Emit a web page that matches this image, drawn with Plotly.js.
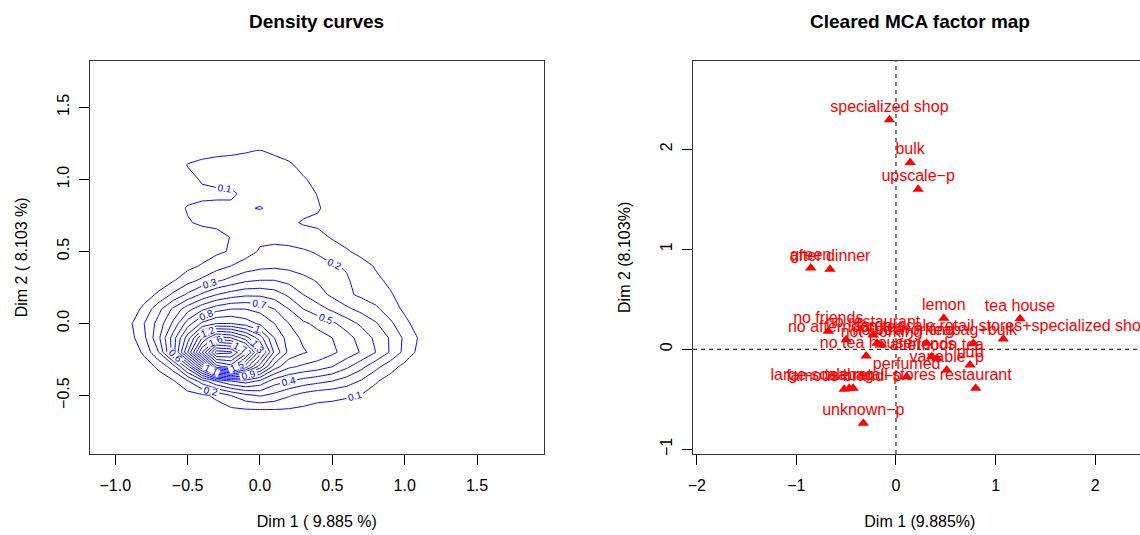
<!DOCTYPE html>
<html>
<head>
<meta charset="utf-8">
<script src="https://cdn.plot.ly/plotly-3.0.1.min.js"></script>
<style>
html, body { margin: 0; padding: 0; overflow: hidden; background: #fff; }
#chart { width: 1160px; height: 535px; }
</style>
</head>
<body>
<div id="chart"></div>
<script>
// ---- Left panel: density grid ----
const gridX = [-1.0,-0.9,-0.8,-0.7,-0.6,-0.5,-0.4,-0.3,-0.2,-0.1,0.0,0.1,0.2,0.3,0.4,0.5,0.6,0.7,0.8,0.9,1.0,1.1,1.2];
const gridY = [-0.8,-0.7,-0.6,-0.5,-0.4,-0.3,-0.2,-0.1,0.0,0.1,0.2,0.3,0.4,0.5,0.6,0.7,0.8,0.9,1.0,1.1,1.2,1.3];
const densityZ = [
 [0,0,0,0,0,0,0,0,0,0,0,0,0,0,0,0,0,0,0,0,0,0,0],
 [0,0,0,0,0,0,0.01,0.02,0.03,0.03,0.04,0.04,0.04,0.03,0.02,0.02,0.02,0.01,0,0,0,0,0],
 [0,0,0,0,0.01,0.02,0.04,0.06,0.08,0.09,0.095,0.095,0.09,0.08,0.07,0.07,0.06,0.04,0.02,0.01,0,0,0],
 [0,0,0.01,0.02,0.04,0.06,0.08,0.12,0.2,0.27,0.31,0.27,0.21,0.16,0.13,0.12,0.11,0.095,0.06,0.03,0.01,0,0],
 [0,0.01,0.03,0.05,0.09,0.19,0.35,0.5,0.6,0.65,0.58,0.45,0.4,0.36,0.33,0.3,0.25,0.19,0.11,0.06,0.03,0.01,0],
 [0,0.02,0.05,0.12,0.25,0.55,1.0,1.55,1.65,1.35,1.05,0.75,0.62,0.58,0.55,0.5,0.42,0.33,0.23,0.14,0.07,0.02,0],
 [0,0.03,0.12,0.3,0.65,1.1,1.6,2.05,2.02,1.75,1.35,0.98,0.77,0.71,0.67,0.62,0.56,0.49,0.4,0.29,0.17,0.07,0],
 [0,0.06,0.18,0.38,0.65,0.95,1.3,1.55,1.5,1.35,1.15,0.9,0.75,0.68,0.64,0.6,0.54,0.46,0.38,0.29,0.18,0.09,0.01],
 [0,0.08,0.2,0.34,0.52,0.75,0.92,1.0,1.0,0.95,0.88,0.8,0.7,0.62,0.57,0.52,0.45,0.38,0.31,0.22,0.13,0.05,0],
 [0,0.03,0.13,0.27,0.42,0.56,0.68,0.76,0.8,0.8,0.77,0.7,0.6,0.5,0.44,0.38,0.32,0.27,0.22,0.15,0.08,0.02,0],
 [0,0.01,0.05,0.12,0.22,0.32,0.42,0.5,0.55,0.58,0.58,0.55,0.48,0.4,0.34,0.28,0.22,0.18,0.15,0.11,0.06,0.02,0],
 [0,0,0.01,0.04,0.09,0.16,0.22,0.28,0.33,0.38,0.4,0.4,0.37,0.33,0.29,0.25,0.21,0.16,0.12,0.08,0.04,0.01,0],
 [0,0,0,0.01,0.04,0.07,0.11,0.16,0.2,0.24,0.27,0.28,0.27,0.25,0.23,0.21,0.19,0.14,0.09,0.05,0.02,0,0],
 [0,0,0,0,0.01,0.03,0.05,0.08,0.11,0.16,0.21,0.22,0.22,0.21,0.19,0.15,0.11,0.07,0.04,0.02,0.01,0,0],
 [0,0,0,0,0.01,0.02,0.04,0.06,0.105,0.14,0.18,0.18,0.17,0.15,0.13,0.09,0.06,0.03,0.02,0.01,0,0,0],
 [0,0,0,0,0.04,0.09,0.12,0.13,0.14,0.14,0.15,0.14,0.12,0.09,0.08,0.05,0.02,0.01,0,0,0,0,0],
 [0,0,0,0.01,0.05,0.11,0.12,0.12,0.12,0.11,0.095,0.12,0.14,0.13,0.11,0.06,0.02,0.01,0,0,0,0,0],
 [0,0,0,0,0.02,0.06,0.08,0.085,0.085,0.12,0.13,0.14,0.15,0.14,0.095,0.05,0.01,0,0,0,0,0,0],
 [0,0,0,0,0,0.07,0.11,0.12,0.13,0.13,0.14,0.14,0.13,0.11,0.07,0.02,0,0,0,0,0,0,0],
 [0,0,0,0,0.03,0.105,0.12,0.12,0.12,0.125,0.125,0.12,0.115,0.07,0.03,0,0,0,0,0,0,0,0],
 [0,0,0,0,0,0.05,0.07,0.085,0.09,0.095,0.102,0.09,0.06,0.03,0,0,0,0,0,0,0,0,0],
 [0,0,0,0,0,0,0,0,0.02,0.02,0.02,0.02,0,0,0,0,0,0,0,0,0,0,0]
];

// ---- Right panel: category coordinates ----
const catNames = [
 "specialized shop","bulk","upscale\u2212p","green","after dinner",
 "lemon","tea house","large-scale retail stores+specialized shop","teabag+bulk",
 "no friends","no afternoon tea","no restaurant","no tea house","no pub","not working",
 "working","friends","afternoon tea","variable\u2212p","pub","restaurant","perfumed",
 "large-scale retail stores","teabag","famous brand\u2212p","unknown\u2212p"
];
const catX = [
 -0.066,0.142,0.222,-0.856,-0.663,
 0.48,1.245,1.077,0.776,
 -0.68,-0.50,-0.23,-0.30,-0.19,-0.145,
 0.308,0.36,0.41,0.509,0.743,0.80,0.107,
 -0.43,-0.47,-0.52,-0.328
];
const catY = [
 2.296,1.868,1.601,0.814,0.80,
 0.31,0.305,0.103,0.06,
 0.18,0.095,0.143,-0.067,0.06,0.043,
 0.06,-0.074,-0.09,-0.207,-0.157,-0.39,-0.274,
 -0.39,-0.39,-0.40,-0.74
];

const FONT = "Liberation Sans, Arial, Helvetica, sans-serif";
const W = 1160, H = 535;

const contourTrace = {
  type: 'contour', x: gridX, y: gridY, z: densityZ,
  xaxis: 'x', yaxis: 'y',
  contours: { coloring: 'lines', start: 0.1, end: 2.0, size: 0.1, showlabels: true,
              labelfont: { family: FONT, size: 10, color: '#0000FF' } },
  line: { width: 1, smoothing: 0 },
  colorscale: [[0,'#0000FF'],[1,'#0000FF']],
  showscale: false, hoverinfo: 'skip'
};

const markTrace = {
  type: 'scatter', mode: 'markers', x: catX, y: catY,
  xaxis: 'x2', yaxis: 'y2',
  marker: { symbol: 'triangle-up', size: 10, color: '#FF0000' },
  hoverinfo: 'skip', cliponaxis: true
};

const labelTrace = {
  type: 'scatter', mode: 'markers+text', x: catX, y: catY, text: catNames,
  xaxis: 'x2', yaxis: 'y2',
  textposition: 'top center',
  textfont: { family: FONT, size: 16, color: '#FF0000' },
  marker: { size: 5, color: 'rgba(0,0,0,0)' },
  hoverinfo: 'skip', cliponaxis: true
};

const axisCommon = {
  showgrid: false, zeroline: false, showline: true, mirror: true,
  linecolor: '#333', linewidth: 1, ticks: 'outside', ticklen: 10, tickwidth: 1,
  tickcolor: '#000', tickfont: { family: FONT, size: 16, color: '#000' }
};

const yDom = [(H-454)/H, (H-60.7)/H];

const layout = {
  width: W, height: H, margin: { l: 0, r: 0, t: 0, b: 0 },
  paper_bgcolor: '#fff', plot_bgcolor: '#fff', showlegend: false,
  xaxis: Object.assign({}, axisCommon, {
    domain: [90/W, 543.7/W], range: [-1.175, 1.961],
    tickvals: [-1, -0.5, 0, 0.5, 1, 1.5], tickformat: '.1f', ticklabelstandoff: 7,
    title: { text: 'Dim 1 ( 9.885 %)', font: { family: FONT, size: 16, color: '#000' }, standoff: 22 }
  }),
  yaxis: Object.assign({}, axisCommon, {
    domain: yDom, range: [-0.906, 1.824], anchor: 'x',
    tickvals: [-0.5, 0, 0.5, 1, 1.5], tickformat: '.1f', tickangle: -90, ticklabelstandoff: 4,
    title: { text: 'Dim 2 ( 8.103 %)', font: { family: FONT, size: 16, color: '#000' }, standoff: 22 }
  }),
  xaxis2: Object.assign({}, axisCommon, {
    domain: [693/W, 1146.7/W], range: [-2.038, 2.517], anchor: 'y2',
    tickvals: [-2, -1, 0, 1, 2], ticklabelstandoff: 7,
    title: { text: 'Dim 1 (9.885%)', font: { family: FONT, size: 16, color: '#000' }, standoff: 22 }
  }),
  yaxis2: Object.assign({}, axisCommon, {
    domain: yDom, range: [-1.047, 2.886], anchor: 'x2',
    tickvals: [-1, 0, 1, 2], tickangle: -90, ticklabelstandoff: 4,
    title: { text: 'Dim 2 (8.103%)', font: { family: FONT, size: 16, color: '#000' }, standoff: 22 }
  }),
  shapes: [
    { type: 'line', xref: 'x2', yref: 'y2 domain', x0: 0, x1: 0, y0: 0, y1: 1,
      line: { color: '#000', width: 1, dash: '4px,4px' }, layer: 'below' },
    { type: 'line', xref: 'x2 domain', yref: 'y2', x0: 0, x1: 1, y0: 0, y1: 0,
      line: { color: '#000', width: 1, dash: '4px,4px' }, layer: 'below' }
  ],
  annotations: [
    { text: '<b>Density curves</b>', xref: 'paper', yref: 'paper',
      x: 316.9/W, y: 1 - 21/H, showarrow: false, xanchor: 'center', yanchor: 'middle',
      font: { family: FONT, size: 19, color: '#000' } },
    { text: '<b>Cleared MCA factor map</b>', xref: 'paper', yref: 'paper',
      x: 919.9/W, y: 1 - 21/H, showarrow: false, xanchor: 'center', yanchor: 'middle',
      font: { family: FONT, size: 19, color: '#000' } }
  ]
};

Plotly.newPlot('chart', [contourTrace, markTrace, labelTrace], layout, { staticPlot: true, displayModeBar: false });
</script>
</body>
</html>
